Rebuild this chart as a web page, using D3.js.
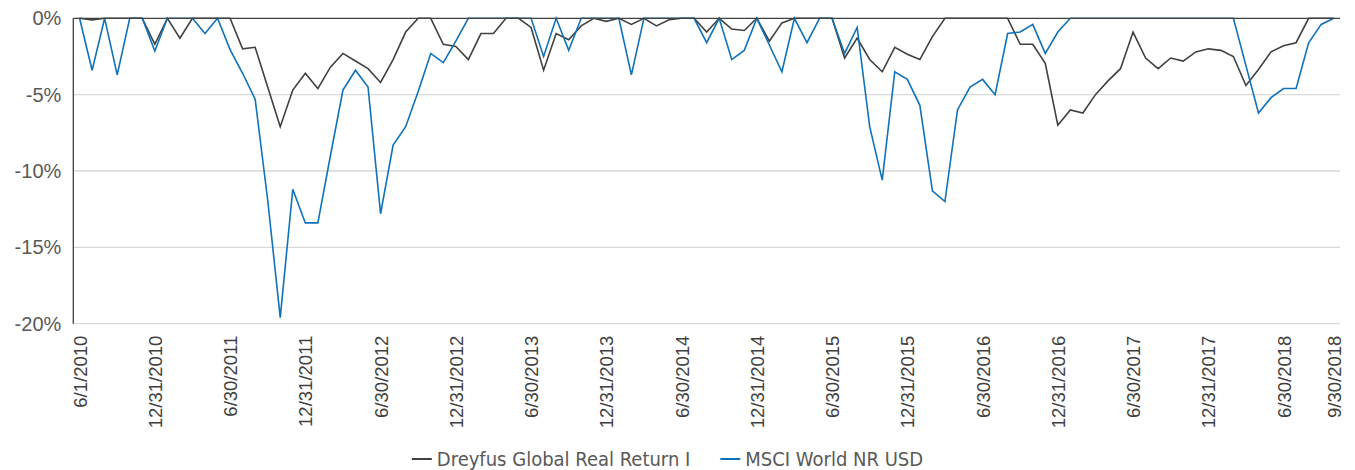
<!DOCTYPE html>
<html>
<head>
<meta charset="utf-8">
<script src="https://cdn.jsdelivr.net/npm/d3@7"></script>
<style>
  body { margin: 0; background: #fff; }
  svg { display: block; }
</style>
</head>
<body>
<svg id="drawing_region"></svg>
<script>
// monthly drawdown (%), first point 6/1/2010 then month ends to 9/30/2018
const fund = [0, -0.1, 0, 0, 0, 0, -1.7, 0, -1.3, 0,
  0, 0, 0, -2.0, -1.9, -4.5, -7.1, -4.7, -3.6, -4.6,
  -3.2, -2.3, -2.8, -3.3, -4.2, -2.7, -0.9, 0, 0, -1.7,
  -1.85, -2.7, -1.0, -1.0, 0, 0, -0.6, -3.4, -1.0, -1.4,
  -0.5, 0, -0.2, 0, -0.4, 0, -0.5, -0.1, 0, 0,
  -0.9, 0, -0.7, -0.8, 0, -1.5, -0.3, 0, 0, 0,
  0, -2.6, -1.3, -2.7, -3.5, -1.9, -2.35, -2.7, -1.2, 0,
  0, 0, 0, 0, 0, -1.7, -1.7, -2.95, -7.0, -6.0,
  -6.2, -5.0, -4.1, -3.3, -0.9, -2.6, -3.3, -2.6, -2.8, -2.2,
  -2.0, -2.1, -2.5, -4.4, -3.35, -2.2, -1.8, -1.6, 0, 0,
  0];
const index = [0, -3.4, 0, -3.7, 0, 0, -2.15, 0, 0, 0,
  -1.0, 0, -2.05, -3.6, -5.3, -11.9, -19.6, -11.2, -13.4, -13.4,
  -9.0, -4.7, -3.4, -4.5, -12.8, -8.3, -7.1, -4.8, -2.3, -2.9,
  -1.5, 0, 0, 0, 0, 0, 0, -2.5, 0, -2.1,
  0, 0, 0, 0, -3.7, 0, 0, 0, 0, 0,
  -1.6, 0, -2.7, -2.1, 0, -1.75, -3.5, 0, -1.6, 0,
  0, -2.3, -0.6, -7.1, -10.6, -3.5, -4.0, -5.7, -11.3, -12.0,
  -6.0, -4.5, -4.0, -5.0, -1.0, -0.9, -0.4, -2.3, -0.9, 0,
  0, 0, 0, 0, 0, 0, 0, 0, 0, 0,
  0, 0, 0, -3.1, -6.2, -5.2, -4.6, -4.6, -1.6, -0.4,
  0];
const tickPos = [0, 6, 12, 18, 24, 30, 36, 42, 48, 54, 60, 66, 72, 78, 84, 90, 96, 100];
const tickLabels = ["6/1/2010", "12/31/2010", "6/30/2011", "12/31/2011", "6/30/2012",
  "12/31/2012", "6/30/2013", "12/31/2013", "6/30/2014", "12/31/2014", "6/30/2015",
  "12/31/2015", "6/30/2016", "12/31/2016", "6/30/2017", "12/31/2017", "6/30/2018", "9/30/2018"];
const yTicks = [0, -5, -10, -15, -20];
const seriesNames = ["Dreyfus Global Real Return I", "MSCI World NR USD"];
const seriesColors = ["#404040", "#0f72ba"];

const config = {
  width: 1355,
  height: 470,
  margin: {top: 18.3, right: 15, bottom: 146.3, left: 73.3}
};

const svg = d3.select('#drawing_region')
  .attr('width', config.width)
  .attr('height', config.height);

const inner_width = config.width - config.margin.left - config.margin.right;
const inner_height = config.height - config.margin.top - config.margin.bottom;

const chart = svg.append('g')
  .attr('transform', `translate(${config.margin.left}, ${config.margin.top})`);

const xscale = d3.scalePoint()
  .domain(d3.range(fund.length))
  .range([0, inner_width])
  .padding(0.5);

const yscale = d3.scaleLinear()
  .domain([-20, 0])
  .range([inner_height, 0]);

// gridlines
chart.selectAll('.grid')
  .data(yTicks.filter(d => d != 0))
  .enter()
  .append('line')
  .attr('x1', 0)
  .attr('x2', inner_width)
  .attr('y1', d => yscale(d))
  .attr('y2', d => yscale(d))
  .attr('stroke', '#d9d9d9')
  .attr('stroke-width', 1.3);

// y labels
const yaxis = d3.axisLeft(yscale)
  .tickValues(yTicks)
  .tickSize(0)
  .tickPadding(12)
  .tickFormat(d => d + '%');

chart.append('g')
  .call(yaxis)
  .call(g => g.select('.domain').remove())
  .selectAll('text')
  .attr('fill', '#595959')
  .style('font-family', '"Liberation Sans", Arial, sans-serif')
  .style('font-size', '20px');

// x labels
const xaxis = d3.axisBottom(xscale)
  .tickValues(tickPos)
  .tickSize(0)
  .tickFormat((d, i) => tickLabels[i]);

chart.append('g')
  .attr('transform', `translate(0, ${inner_height})`)
  .call(xaxis)
  .call(g => g.select('.domain').remove())
  .selectAll('text')
  .attr('fill', '#404040')
  .attr('transform', 'rotate(-90)')
  .attr('x', -12)
  .attr('y', 0)
  .attr('dy', '0.35em')
  .style('text-anchor', 'end')
  .style('font-family', '"Liberation Sans", Arial, sans-serif')
  .style('font-size', '18.5px');

// lines
const line = d3.line()
  .x((d, i) => xscale(i))
  .y(d => yscale(d));

[fund, index].forEach((s, k) => {
  chart.append('path')
    .datum(s)
    .attr('d', line)
    .attr('fill', 'none')
    .attr('stroke', seriesColors[k])
    .attr('stroke-width', 1.6)
    .attr('stroke-linejoin', 'miter');
});

// axis lines
chart.append('line')
  .attr('x1', 0).attr('x2', inner_width)
  .attr('y1', yscale(0)).attr('y2', yscale(0))
  .attr('stroke', '#404040')
  .attr('stroke-width', 1.3);

chart.append('line')
  .attr('x1', 0).attr('x2', 0)
  .attr('y1', yscale(0)).attr('y2', yscale(-20))
  .attr('stroke', '#404040')
  .attr('stroke-width', 1.3);

// legend
const legend = svg.append('g');
let lx = 0;
seriesNames.forEach((name, k) => {
  const item = legend.append('g').attr('transform', `translate(${lx}, 0)`);
  item.append('line')
    .attr('x1', 0).attr('x2', 20)
    .attr('y1', 0).attr('y2', 0)
    .attr('stroke', seriesColors[k])
    .attr('stroke-width', 2);
  const t = item.append('text')
    .attr('x', 25)
    .attr('y', 0)
    .attr('dy', '0.35em')
    .attr('fill', '#595959')
    .style('font-family', '"Liberation Sans Narrow", "DejaVu Sans Condensed", sans-serif')
    .style('font-size', '20px')
    .text(name);
  lx += 25 + t.node().getComputedTextLength() + 30;
});
const legendWidth = lx - 30;
legend.attr('transform', `translate(${667.5 - legendWidth / 2}, 459)`);
</script>
</body>
</html>
